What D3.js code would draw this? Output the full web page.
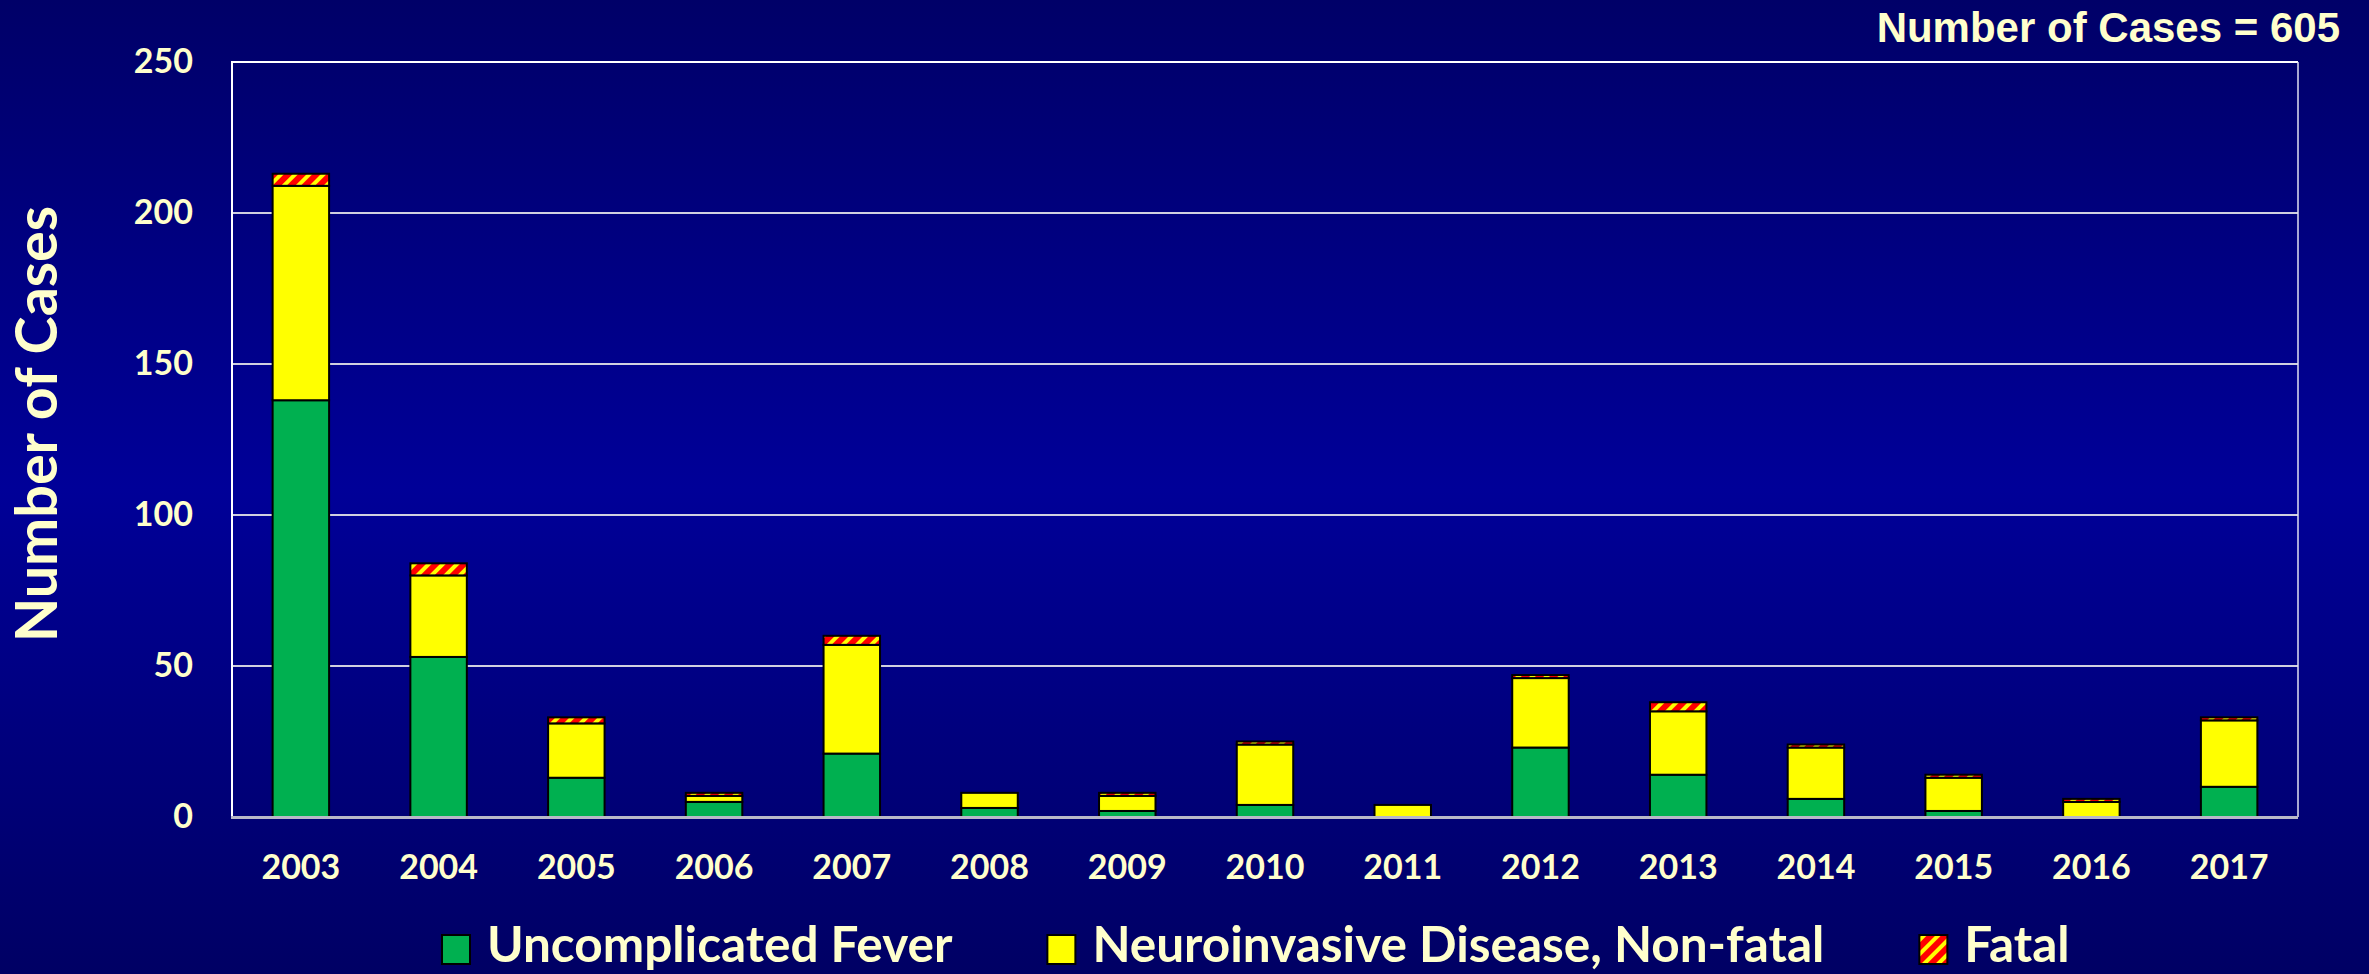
<!DOCTYPE html>
<html>
<head>
<meta charset="utf-8">
<script src="https://cdn.jsdelivr.net/npm/d3@7"></script>
<style>
  html, body { margin: 0; padding: 0; background: #000070; }
  svg { display: block; }
</style>
</head>
<body>
<svg id="chart" width="2369" height="974"></svg>
<script>
// ---- Data ----
const years = ["2003","2004","2005","2006","2007","2008","2009","2010","2011","2012","2013","2014","2015","2016","2017"];
const uncomplicatedFever = [138, 53, 13, 5, 21, 3, 2, 4, 0, 23, 14, 6, 2, 0, 10];
const neuroNonFatal      = [ 71, 27, 18, 2, 36, 5, 5, 20, 4, 23, 21, 17, 11, 5, 22];
const fatal              = [  4,  4,  2, 1,  3, 0, 1, 1, 0,  1,  3,  1,  1, 1,  1];
const seriesNames = ["Uncomplicated Fever", "Neuroinvasive Disease, Non-fatal", "Fatal"];
const yTicks = [0, 50, 100, 150, 200, 250];
const totalLabel = "Number of Cases = 605";
const yTitle = "Number of Cases";

(function () {
// ---- Setup ----
const W = 2369, H = 974;
const svg = d3.select("#chart");
const defs = svg.append("defs");

const bg = defs.append("linearGradient").attr("id", "bg").attr("x1", 0).attr("y1", 0).attr("x2", 0).attr("y2", 1);
bg.append("stop").attr("offset", "0%").attr("stop-color", "#000068");
bg.append("stop").attr("offset", "50%").attr("stop-color", "#000098");
bg.append("stop").attr("offset", "100%").attr("stop-color", "#000064");

const pat = defs.append("pattern").attr("id", "fatalPat")
  .attr("patternUnits", "userSpaceOnUse").attr("width", 10).attr("height", 10)
  .attr("patternTransform", "rotate(45)");
pat.append("rect").attr("width", 10).attr("height", 10).attr("fill", "#FF0000");
pat.append("rect").attr("width", 4).attr("height", 10).attr("fill", "#FFFF00");

svg.append("rect").attr("width", W).attr("height", H).attr("fill", "url(#bg)");

const fills = ["#00B050", "#FFFF00", "url(#fatalPat)"];
const textColor = "#FFFFCC";
const labelFont = "Lato, 'Open Sans', sans-serif";

const pLeft = 232, pRight = 2298, pTop = 62, pBottom = 817;

const x = d3.scaleBand().domain(years).range([pLeft, pRight]).paddingInner(0.59).paddingOuter(0.295);
const y = d3.scaleLinear().domain([0, 250]).range([pBottom, pTop]);

// gridlines
svg.append("g").selectAll("line").data(yTicks.filter(d => d > 0 && d < 250)).join("line")
  .attr("x1", pLeft).attr("x2", pRight)
  .attr("y1", d => y(d)).attr("y2", d => y(d))
  .attr("stroke", "#d0d0e0").attr("stroke-width", 2);

// plot border (top & right)
svg.append("line").attr("x1", pLeft).attr("x2", pRight).attr("y1", y(250)).attr("y2", y(250))
  .attr("stroke", "#ffffff").attr("stroke-width", 2);
svg.append("line").attr("x1", pRight).attr("x2", pRight).attr("y1", pTop).attr("y2", pBottom)
  .attr("stroke", "#e0e0f0").attr("stroke-width", 1.5);

// stacked data
const rows = years.map((yr, i) => ({year: yr, a: uncomplicatedFever[i], b: neuroNonFatal[i], c: fatal[i]}));
const stack = d3.stack().keys(["a", "b", "c"])(rows);

const gBars = svg.append("g");
stack.forEach((layer, li) => {
  gBars.append("g").selectAll("rect").data(layer.filter(d => d[1] - d[0] > 0)).join("rect")
    .attr("x", d => x(d.data.year))
    .attr("width", x.bandwidth())
    .attr("y", d => y(d[1]))
    .attr("height", d => y(d[0]) - y(d[1]))
    .attr("fill", fills[li])
    .attr("stroke", "#000000")
    .attr("stroke-width", 2);
});

// axes lines
svg.append("line").attr("x1", pLeft).attr("x2", pLeft).attr("y1", pTop - 1).attr("y2", pBottom)
  .attr("stroke", "#ffffff").attr("stroke-width", 2);
svg.append("line").attr("x1", pLeft - 1).attr("x2", pRight).attr("y1", pBottom + 0.5).attr("y2", pBottom + 0.5)
  .attr("stroke", "#b8b8c8").attr("stroke-width", 3);

// y axis labels
const yAxis = d3.axisLeft(y).tickValues(yTicks).tickSize(0).tickPadding(39);
const gy = svg.append("g").attr("transform", `translate(${pLeft},0)`).call(yAxis);
gy.select(".domain").remove();
gy.selectAll("text").attr("fill", textColor).attr("font-family", labelFont)
  .attr("font-weight", "bold").attr("font-size", 34);

// x axis labels
const xAxis = d3.axisBottom(x).tickSize(0).tickPadding(38);
const gx = svg.append("g").attr("transform", `translate(0,${pBottom})`).call(xAxis);
gx.select(".domain").remove();
gx.selectAll("text").attr("fill", textColor).attr("font-family", labelFont)
  .attr("font-weight", "bold").attr("font-size", 34);

// y title
svg.append("text").attr("transform", "translate(57,424) rotate(-90)")
  .attr("text-anchor", "middle").attr("fill", textColor)
  .attr("font-family", labelFont).attr("font-weight", "bold").attr("font-size", 57.5)
  .text(yTitle);

// total label
svg.append("text").attr("x", 2340).attr("y", 42).attr("text-anchor", "end")
  .attr("fill", textColor).attr("font-family", "'Liberation Sans', Arial, sans-serif")
  .attr("font-weight", "bold").attr("font-size", 42).text(totalLabel);

// legend
const legend = svg.append("g");
let lx = 442;
seriesNames.forEach((name, i) => {
  const g = legend.append("g");
  g.append("rect").attr("x", lx).attr("y", 935).attr("width", 28).attr("height", 29)
    .attr("fill", fills[i]).attr("stroke", "#000000").attr("stroke-width", 2);
  const t = g.append("text").attr("x", lx + 45).attr("y", 962)
    .attr("fill", textColor).attr("font-family", labelFont).attr("font-weight", "bold")
    .attr("font-size", 49.5).text(name);
  const w = t.node().getComputedTextLength();
  lx = lx + 45 + w + 95;
});
})();
</script>
</body>
</html>
